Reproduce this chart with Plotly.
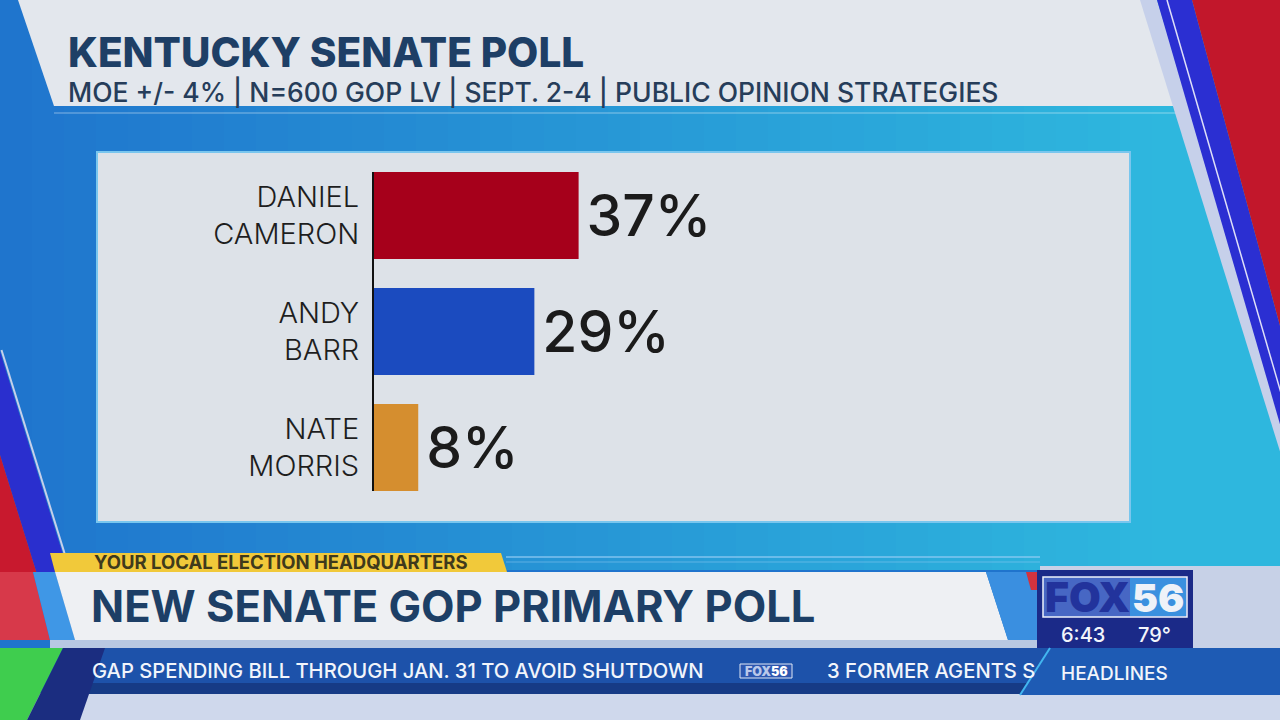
import plotly.graph_objects as go

W, H = 1280, 720

# ---------------- data ----------------
candidates = ["DANIEL CAMERON", "ANDY BARR", "NATE MORRIS"]
support_pct = [37, 29, 8]
bar_colors = ["#a6001b", "#1b4bbf", "#d58e2f"]

title_text = "KENTUCKY SENATE POLL"
subtitle_text = "MOE +/- 4% | N=600 GOP LV | SEPT. 2-4 | PUBLIC OPINION STRATEGIES"
kicker_text = "YOUR LOCAL ELECTION HEADQUARTERS"
headline_text = "NEW SENATE GOP PRIMARY POLL"
ticker_items = ["GAP SPENDING BILL THROUGH JAN. 31 TO AVOID SHUTDOWN", "3 FORMER AGENTS S"]
ticker_label = "HEADLINES"
station_parts = ["FOX", "56"]
clock_time = "6:43"
temperature = "79°"

FONT = "Inter"


# ---------------- helpers (pixel -> paper) ----------------
def px(x):
    return x / W


def py(y):
    return 1 - y / H


def path_of(pts):
    return "M " + " L ".join(f"{px(x):.5f},{py(y):.5f}" for x, y in pts) + " Z"


shapes = []


def add_poly(pts, color, layer="below"):
    shapes.append(dict(type="path", path=path_of(pts), xref="paper", yref="paper",
                       fillcolor=color, line=dict(width=0), layer=layer))


def add_rect(x0, y0, x1, y1, color, line_color=None, lw=0):
    shapes.append(dict(type="rect", xref="paper", yref="paper",
                       x0=px(x0), x1=px(x1), y0=py(y1), y1=py(y0),
                       fillcolor=color,
                       line=dict(width=lw, color=line_color or "rgba(0,0,0,0)"),
                       layer="below"))


def add_line(x0, y0, x1, y1, color, w, layer="below"):
    shapes.append(dict(type="line", xref="paper", yref="paper",
                       x0=px(x0), x1=px(x1), y0=py(y0), y1=py(y1),
                       line=dict(color=color, width=w), layer=layer))


def diag(a0, s0, a1, s1, y0, y1):
    return [(a0 + s0 * y0, y0), (a1 + s1 * y0, y0), (a1 + s1 * y1, y1), (a0 + s0 * y1, y1)]


def hex2rgb(h):
    h = h.lstrip("#")
    return tuple(int(h[i:i + 2], 16) for i in (0, 2, 4))


def lerp(c1, c2, t):
    a, b = hex2rgb(c1), hex2rgb(c2)
    return "rgb(%d,%d,%d)" % tuple(round(a[i] + (b[i] - a[i]) * t) for i in range(3))


# ---------------- background ----------------
N = 40
for i in range(N):
    x0 = i * W / N
    x1 = (i + 1) * W / N + 1
    t = min(1.0, (x0 + W / N / 2) / 1150)
    add_rect(x0, 0, x1, 570, lerp("#1f74cd", "#2eb7de", t))

# top light band
add_poly([(18, 0), (1142, 0), (1175, 106), (54, 106)], "#e3e7ed")
add_line(54, 113, 1178, 113, "rgba(255,255,255,0.3)", 1.5)

# right-side stripes
add_poly(diag(1140, 0.31, 1157, 0.31, 0, 720), "#c6d0ea")
add_poly(diag(1157, 0.29, 1192, 0.27, 0, 720), "#2b2fd2")
add_poly([(1192, 0), (1280, 0), (1280, 326)], "#c2172b")
add_line(1167, 0, 1167 + 0.29 * 420, 420, "rgba(255,255,255,0.85)", 1.5)

# left-side stripes
add_poly(diag(-141, 0.31, -109, 0.31, 352, 572), "#2a2fce")
add_poly([(0, 455), (-141 + 0.31 * 572, 572), (0, 572)], "#c8192e")
add_line(-107 + 0.31 * 350, 350, -107 + 0.31 * 572, 572, "#c6d0ea", 2)

# chart panel
add_rect(97, 152, 1130, 522, "#dde2e8", "#79c6ee", 2)

# ---------------- lower third ----------------
add_rect(1040, 566, 1280, 720, "#c7d1e7")
add_rect(0, 693, 1280, 720, "#cfd8ec")
add_line(506, 557, 1040, 557, "rgba(150,205,245,0.8)", 1.5)
add_line(506, 562, 1040, 562, "rgba(150,205,245,0.5)", 1)

add_poly([(0, 572), (33, 572), (50, 640), (0, 640)], "#d7394a")
add_poly([(33, 572), (55, 572), (75, 640), (50, 640)], "#3f97e6")
add_poly([(55, 572), (986, 572), (1008, 640), (75, 640)], "#eef0f3")
add_rect(50, 640, 1040, 648, "#b8c8e2")
add_poly([(50, 553), (501, 553), (507, 572), (55, 572)], "#f1c93a")
add_poly([(986, 572), (1040, 572), (1040, 640), (1008, 640)], "#3a8fe0")
add_poly([(1026, 572), (1040, 572), (1040, 590), (1031, 590)], "#d2333f")

# ticker
add_rect(85, 648, 1050, 694, "#1d52aa")
add_rect(85, 683, 1040, 694, "#163b86")
add_poly([(0, 648), (63, 648), (27, 720), (0, 720)], "#3fcd4e")
add_poly([(63, 648), (105, 648), (80, 720), (27, 720)], "#1b2d80")

# station bug
add_rect(1037, 570, 1193, 648, "#1b2a88")
add_rect(1043, 577, 1187, 617, "#4767c4", "#eef2fa", 1.5)
add_rect(1130, 578, 1186, 616, "#3a90df")
add_rect(740, 664, 792, 678, "#2c57b0", "#dfe7f5", 1)

# headlines section, drawn above the running ticker text so it cuts it off
add_poly([(1050, 648), (1280, 648), (1280, 695), (1020, 695)], "#1e5bb4", layer="above")
add_line(1050, 648, 1020, 695, "#42b6f0", 2, layer="above")

# ---------------- annotations (text) ----------------
ann = []


def text(s, x, y, size, color, weight=400, anchor="left"):
    ann.append(dict(text=s, x=px(x), y=py(y), xref="paper", yref="paper",
                    xanchor=anchor, yanchor="middle", showarrow=False, borderpad=0,
                    font=dict(family=FONT, size=size, color=color, weight=weight)))


text(title_text, 67, 53, 40.5, "#1e3f66", 800)
text(subtitle_text, 67, 92.5, 26.5, "#263d5a", 500)
text(kicker_text, 93, 562, 18.5, "#3f3a1c", 700)
text(headline_text, 90, 606, 43.5, "#1d3f66", 700)
text(ticker_items[0], 91, 670, 20.2, "#f2f5fb", 500)
text(ticker_items[1], 826, 670, 20.2, "#f2f5fb", 500)
text(ticker_label, 1060, 673, 19, "#f2f5fb", 500)
text(station_parts[0], 1087, 597, 41, "#22339c", 900, "center")
text(station_parts[1], 1158, 597, 39, "#eef2f8", 900, "center")
text(station_parts[0] + "<span style='color:#ffffff'>" + station_parts[1] + "</span>",
     766, 671, 12.5, "#b9c8ea", 900, "center")
text(clock_time, 1083, 634.5, 20, "#f2f5fb", 500, "center")
text(temperature, 1154, 634.5, 20, "#f2f5fb", 500, "center")

# ---------------- bars ----------------
tick_text = [n.replace(" ", "<br>", 1) for n in candidates]

fig = go.Figure(go.Bar(
    x=support_pct, y=candidates, orientation="h",
    marker=dict(color=bar_colors, line=dict(width=0)),
    text=["\u200a" + f"{v}%" for v in support_pct],
    textposition="outside", cliponaxis=False, constraintext="none",
    textfont=dict(family=FONT, size=57, color="#1b1b1b", weight=500),
    hoverinfo="skip",
))

fig.update_layout(
    width=W, height=H, autosize=False,
    margin=dict(l=0, r=0, t=0, b=0),
    paper_bgcolor="#1f74cd", plot_bgcolor="rgba(0,0,0,0)",
    showlegend=False, bargap=0.25,
    shapes=shapes, annotations=ann,
    xaxis=dict(domain=[px(374), px(650.5)], range=[0, 50], visible=False, fixedrange=True),
    yaxis=dict(domain=[py(491), py(172)], range=[2.375, -0.375], type="category",
               tickmode="array", tickvals=candidates, ticktext=tick_text,
               tickfont=dict(family=FONT, size=29, color="#1e1e1e", weight=300),
               ticklabelstandoff=7,
               showline=True, linecolor="#111111", linewidth=2,
               showgrid=False, zeroline=False, ticks="",
               fixedrange=True),
)

fig.write_html("out.html", config={"displayModeBar": False})
